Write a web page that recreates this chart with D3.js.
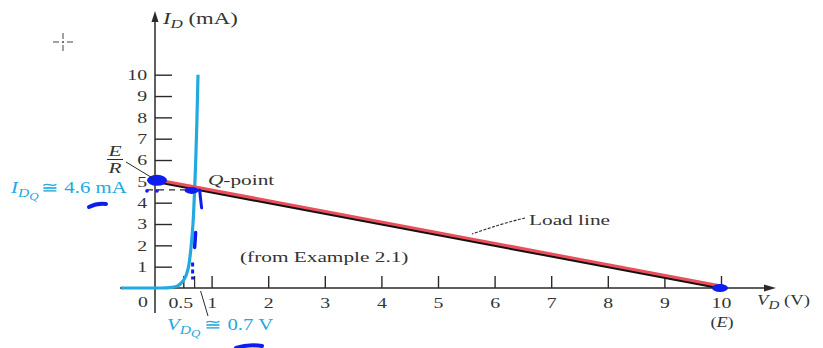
<!DOCTYPE html>
<html>
<head>
<meta charset="utf-8">
<script src="https://cdn.jsdelivr.net/npm/d3@7/dist/d3.min.js"></script>
<style>
  html, body { margin: 0; padding: 0; background: #fff; }
  svg { display: block; }
  text { font-family: "Liberation Serif", "DejaVu Serif", serif; fill: #333; }
</style>
</head>
<body>
<svg id="chart" width="823" height="348"></svg>
<script>
// Diode characteristic (V in volts, I in mA)
const diodeV = [-0.6, 0, 0.2, 0.3, 0.4, 0.45, 0.5, 0.55, 0.6, 0.65, 0.68, 0.7, 0.72, 0.74, 0.76];
const diodeI = [0, 0, 0.01, 0.03, 0.1, 0.2, 0.35, 0.6, 1.1, 2.3, 3.4, 4.6, 6.0, 7.8, 10];

// Load line: E = 10 V, E/R = 5 mA
const loadV = [0, 10];
const loadI = [5, 0];

// Operating point
const qV = 0.7;
const qI = 4.6;

// Axis ticks
const xTickValues = [0.5, 1, 2, 3, 4, 5, 6, 7, 8, 9, 10];
const xTickLabels = ["0.5", "1", "2", "3", "4", "5", "6", "7", "8", "9", "10"];
const yTickValues = [1, 2, 3, 4, 5, 6, 7, 8, 9, 10];
const yTickLabels = ["1", "2", "3", "4", "5", "6", "7", "8", "9", "10"];

const CYAN = "#22a9e1";
const BLUE = "#0d1df0";
const RED = "#ec4f5b";
const INK = "#2a2a2a";

// wide serif lettering: glyphs are stretched horizontally
const WIDE = 1.42;
const WIDE_CYAN = 1.3;
const WIDE_TICK = 1.32;

const svg = d3.select("#chart");
const x = d3.scaleLinear().domain([0, 10]).range([155, 721]);
const y = d3.scaleLinear().domain([0, 10]).range([288, 74.7]);

function label(px, py, size, sx, anchor) {
  return svg.append("text")
    .attr("transform", `translate(${px},${py}) scale(${sx},1)`)
    .attr("font-size", size)
    .attr("text-anchor", anchor || "start");
}

// ---- axes ----
const xAxis = d3.axisBottom(x)
  .tickValues(xTickValues)
  .tickFormat((d, i) => xTickLabels[i])
  .tickSizeInner(-12).tickSizeOuter(0).tickPadding(9);
const gx = svg.append("g").attr("transform", `translate(0,${y(0)})`).call(xAxis);
gx.select(".domain").remove();
gx.selectAll(".tick line").attr("stroke", INK).attr("stroke-width", 1.4);
gx.selectAll(".tick text").attr("font-size", 15).attr("font-family", "Liberation Serif")
  .attr("fill", "#333").attr("transform", `scale(${WIDE_TICK},1)`);
gx.selectAll(".tick text").filter(d => d === 0.5).attr("transform", `translate(-3,0) scale(${WIDE_TICK},1)`);

const yAxis = d3.axisLeft(y)
  .tickValues(yTickValues)
  .tickFormat((d, i) => yTickLabels[i])
  .tickSizeInner(-17).tickSizeOuter(0).tickPadding(6);
const gy = svg.append("g").attr("transform", `translate(${x(0)},0)`).call(yAxis);
gy.select(".domain").remove();
gy.selectAll(".tick line").attr("stroke", INK).attr("stroke-width", 1.4);
gy.selectAll(".tick text").attr("font-size", 15).attr("font-family", "Liberation Serif")
  .attr("fill", "#333").attr("transform", `scale(${WIDE_TICK},1)`);

// small tick at the Q-point voltage
svg.append("line")
  .attr("x1", x(qV)).attr("x2", x(qV))
  .attr("y1", y(0)).attr("y2", y(0) - 12)
  .attr("stroke", INK).attr("stroke-width", 1.2);

// axis lines with arrowheads
svg.append("line").attr("x1", x(0)).attr("x2", x(0)).attr("y1", 18).attr("y2", 313)
  .attr("stroke", INK).attr("stroke-width", 1.5);
svg.append("path").attr("d", `M${x(0)},11 L${x(0) - 3.5},22 L${x(0) + 3.5},22 Z`).attr("fill", INK);
svg.append("line").attr("x1", 120).attr("x2", 766).attr("y1", y(0)).attr("y2", y(0))
  .attr("stroke", INK).attr("stroke-width", 1.5);
svg.append("path").attr("d", `M776,${y(0)} L764,${y(0) - 3.5} L764,${y(0) + 3.5} Z`).attr("fill", INK);

// origin label
label(143, 307, 15, WIDE_TICK, "middle").text("0");

// ---- diode curve ----
const diodePts = diodeV.map((v, i) => [v, diodeI[i]]);
const line = d3.line().x(d => x(d[0])).y(d => y(d[1])).curve(d3.curveMonotoneX);
svg.append("path").datum(diodePts).attr("d", line)
  .attr("fill", "none").attr("stroke", CYAN).attr("stroke-width", 3.2);
// flat part continues to the left end of the V axis
svg.append("line").attr("x1", 122).attr("x2", x(diodeV[0])).attr("y1", y(0)).attr("y2", y(0))
  .attr("stroke", CYAN).attr("stroke-width", 3.2);

// ---- load line ----
const loadPts = loadV.map((v, i) => [v, loadI[i]]);
const straight = d3.line().x(d => x(d[0])).y(d => y(d[1]));
svg.append("path").datum(loadPts).attr("d", straight)
  .attr("fill", "none").attr("stroke", "#111").attr("stroke-width", 3);
// overdrawn red stroke, slightly above
const redPts = [[0.17, 5 - 0.017 * 5], [10, 0]];
svg.append("path").datum(redPts).attr("d", straight)
  .attr("transform", "translate(0,-2)")
  .attr("fill", "none").attr("stroke", RED).attr("stroke-width", 3);

// dashed guide from I-axis to Q-point
svg.append("line").attr("x1", x(0) - 8).attr("x2", x(qV)).attr("y1", y(qI)).attr("y2", y(qI))
  .attr("stroke", INK).attr("stroke-width", 1.2).attr("stroke-dasharray", "6,5");

// ---- hand-drawn blue markings ----
const blue = svg.append("g").attr("fill", BLUE).attr("stroke", BLUE);
blue.append("ellipse").attr("cx", x(0) + 2).attr("cy", y(5) - 1).attr("rx", 10).attr("ry", 5.5).attr("stroke", "none");
blue.append("ellipse").attr("cx", x(qV) - 3).attr("cy", y(qI) + 0.5).attr("rx", 7).attr("ry", 3.5).attr("stroke", "none");
blue.append("path").attr("d", `M${x(qV) + 5},${y(qI)} Q${x(qV) + 6},${y(qI) + 10} ${x(qV) + 7},${y(qI) + 18}`)
  .attr("fill", "none").attr("stroke-width", 3).attr("stroke-linecap", "round");
blue.append("circle").attr("cx", x(0) - 8).attr("cy", y(qI) + 1).attr("r", 1.8).attr("stroke", "none");
blue.append("circle").attr("cx", x(0) + 2).attr("cy", y(qI) + 1).attr("r", 1.8).attr("stroke", "none");
blue.append("line").attr("x1", x(qV) + 1).attr("x2", x(qV)).attr("y1", y(2.6)).attr("y2", y(1.9))
  .attr("stroke-width", 3.5).attr("stroke-linecap", "round");
blue.append("line").attr("x1", x(qV) - 2).attr("x2", x(qV) - 2).attr("y1", y(1.2)).attr("y2", y(0.4))
  .attr("stroke-width", 3).attr("stroke-dasharray", "4,3");
blue.append("ellipse").attr("cx", x(10) - 1).attr("cy", y(0)).attr("rx", 8).attr("ry", 4).attr("stroke", "none");
blue.append("path").attr("d", "M89,207 Q97,203 106,204").attr("fill", "none")
  .attr("stroke-width", 4).attr("stroke-linecap", "round");
blue.append("path").attr("d", "M236,348 Q248,344 262,346").attr("fill", "none")
  .attr("stroke-width", 4).attr("stroke-linecap", "round");

// ---- labels ----
// I_D (mA)
const tI = label(163, 24, 16, WIDE);
tI.append("tspan").attr("font-style", "italic").text("I");
tI.append("tspan").attr("font-style", "italic").attr("font-size", 12).attr("dy", 4).text("D");
tI.append("tspan").attr("dy", -4).text(" (mA)");

// E / R
label(115, 156, 15, WIDE, "middle").attr("font-style", "italic").text("E");
svg.append("line").attr("x1", 107).attr("x2", 123).attr("y1", 159.5).attr("y2", 159.5)
  .attr("stroke", INK).attr("stroke-width", 1);
label(115, 173, 15, WIDE, "middle").attr("font-style", "italic").text("R");
svg.append("line").attr("x1", 126).attr("y1", 162).attr("x2", x(0) - 2).attr("y2", y(5) - 3)
  .attr("stroke", INK).attr("stroke-width", 1);

// Q-point
const tQ = label(208, 185, 15, WIDE);
tQ.append("tspan").attr("font-style", "italic").text("Q");
tQ.append("tspan").text("-point");

// I_DQ ≅ 4.6 mA
const tIq = label(11, 193, 16, WIDE_CYAN).style("fill", CYAN);
tIq.append("tspan").attr("font-style", "italic").text("I");
tIq.append("tspan").attr("font-style", "italic").attr("font-size", 12).attr("dy", 4).text("D");
tIq.append("tspan").attr("font-style", "italic").attr("font-size", 10).attr("dy", 3).text("Q");
tIq.append("tspan").attr("dy", -7).attr("dx", 2).text("\u2245 4.6 mA");

// (from Example 2.1)
label(240, 262, 15, WIDE).text("(from Example 2.1)");

// Load line label with dashed leader
label(529, 225, 15, WIDE).text("Load line");
svg.append("path").attr("d", "M525,218 Q500,224 472,234").attr("fill", "none")
  .attr("stroke", INK).attr("stroke-width", 1.1).attr("stroke-dasharray", "3,1.5");

// V_D (V)
const tV = label(757, 305, 15, 1.25);
tV.append("tspan").attr("font-style", "italic").text("V");
tV.append("tspan").attr("font-style", "italic").attr("font-size", 12).attr("dy", 4).text("D");
tV.append("tspan").attr("dy", -4).text(" (V)");

// (E)
const tE = label(x(10) + 1, 327, 14, 1.3, "middle");
tE.append("tspan").text("(");
tE.append("tspan").attr("font-style", "italic").text("E");
tE.append("tspan").text(")");

// V_DQ ≅ 0.7 V with leader
svg.append("line").attr("x1", x(qV) + 6).attr("y1", 291).attr("x2", 208).attr("y2", 316)
  .attr("stroke", INK).attr("stroke-width", 1);
const tVq = label(167, 330, 16, WIDE_CYAN).style("fill", CYAN);
tVq.append("tspan").attr("font-style", "italic").text("V");
tVq.append("tspan").attr("font-style", "italic").attr("font-size", 12).attr("dy", 4).text("D");
tVq.append("tspan").attr("font-style", "italic").attr("font-size", 10).attr("dy", 3).text("Q");
tVq.append("tspan").attr("dy", -7).attr("dx", 3).text("\u2245 0.7 V");

// cursor crosshair
const cross = svg.append("g").attr("stroke", "#444").attr("stroke-width", 1);
cross.append("line").attr("x1", 63).attr("x2", 63).attr("y1", 33).attr("y2", 39);
cross.append("line").attr("x1", 63).attr("x2", 63).attr("y1", 45).attr("y2", 51);
cross.append("line").attr("x1", 53).attr("x2", 59).attr("y1", 42).attr("y2", 42);
cross.append("line").attr("x1", 67).attr("x2", 73).attr("y1", 42).attr("y2", 42);
cross.append("circle").attr("cx", 63).attr("cy", 42).attr("r", 0.6).attr("fill", "#444");
</script>
</body>
</html>
